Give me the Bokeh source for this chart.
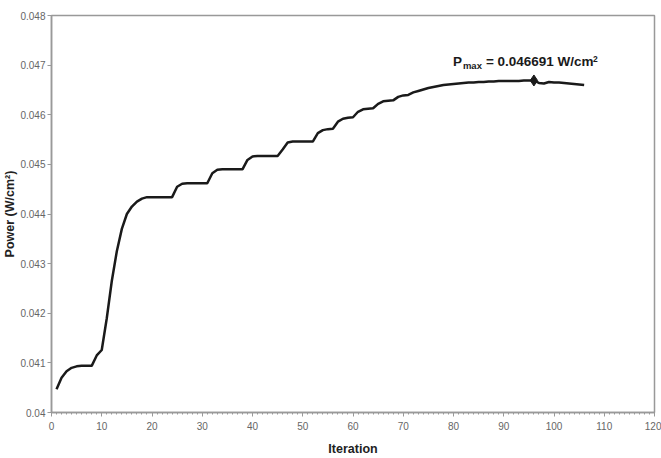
from bokeh.plotting import figure
from bokeh.models import FixedTicker, Label, Range1d
from bokeh.embed import file_html
from bokeh.resources import INLINE

iterations = list(range(1, 107))
power = [
    0.04047, 0.04070, 0.04083, 0.04090, 0.04093, 0.04094, 0.04094, 0.04094, 0.04115, 0.04126,
    0.04190, 0.04265, 0.04325, 0.04370, 0.04400, 0.04415, 0.04425, 0.04431, 0.04434, 0.04434,
    0.04434, 0.04434, 0.04434, 0.04434, 0.04455, 0.04461, 0.04462, 0.04462, 0.04462, 0.04462,
    0.04462, 0.04482, 0.04489, 0.04490, 0.04490, 0.04490, 0.04490, 0.04490, 0.04509, 0.04516,
    0.04517, 0.04517, 0.04517, 0.04517, 0.04517, 0.04530, 0.04544, 0.04546, 0.04546, 0.04546,
    0.04546, 0.04546, 0.04563, 0.04569, 0.04571, 0.04572, 0.04586, 0.04592, 0.04594, 0.04595,
    0.04606, 0.04611, 0.04612, 0.04613, 0.04622, 0.04627, 0.04628, 0.04629, 0.04636, 0.04639,
    0.04640, 0.04645, 0.04648, 0.04651, 0.04654, 0.04656, 0.04658, 0.04660, 0.04661, 0.04662,
    0.04663, 0.04664, 0.04665, 0.04665, 0.04666, 0.04666, 0.04667, 0.04667, 0.04668, 0.04668,
    0.04668, 0.04668, 0.04668, 0.04669, 0.04669, 0.04669, 0.04664, 0.04663, 0.04666, 0.04665,
    0.04665, 0.04664, 0.04663, 0.04662, 0.04661, 0.04660,
]
pmax_iter = [96]
pmax_value = [0.046691]

x_ticks = list(range(0, 121, 10))
x_minor = list(range(0, 121, 1))
y_ticks = [0.040, 0.041, 0.042, 0.043, 0.044, 0.045, 0.046, 0.047, 0.048]
y_tick_labels = ["0.04", "0.041", "0.042", "0.043", "0.044", "0.045", "0.046", "0.047", "0.048"]

FONT = "Liberation Sans"
GRAY = "#999999"
LABEL_GRAY = "#666666"

p = figure(width=661, height=458, output_backend="svg", toolbar_location=None,
           x_range=Range1d(0, 120), y_range=Range1d(0.040, 0.048),
           min_border_left=50, min_border_right=7, min_border_top=15, min_border_bottom=46)

p.background_fill_color = "white"
p.border_fill_color = "white"
p.outline_line_color = GRAY
p.outline_line_width = 1.5
p.xgrid.visible = False
p.ygrid.visible = False

p.xaxis.ticker = FixedTicker(ticks=x_ticks, minor_ticks=x_minor)
p.yaxis.ticker = FixedTicker(ticks=y_ticks)
p.yaxis.major_label_overrides = {t: s for t, s in zip(y_ticks, y_tick_labels)}

for ax in (p.xaxis[0], p.yaxis[0]):
    ax.axis_line_color = GRAY
    ax.axis_line_width = 1.5
    ax.major_tick_line_color = GRAY
    ax.minor_tick_line_color = GRAY
    ax.major_tick_out = 4
    ax.major_tick_in = 0
    ax.minor_tick_out = 2
    ax.minor_tick_in = 0
    ax.major_label_text_font = FONT
    ax.major_label_text_font_size = "10px"
    ax.major_label_text_color = LABEL_GRAY
    ax.axis_label_text_font = FONT
    ax.axis_label_text_font_size = "12.5px"
    ax.axis_label_text_font_style = "bold"
    ax.axis_label_text_color = "#222222"

p.yaxis.minor_tick_line_color = None
p.xaxis.axis_label = "Iteration"
p.yaxis.axis_label = "Power (W/cm²)"
p.xaxis.major_label_standoff = 5
p.xaxis.axis_label_standoff = 9
p.yaxis.major_label_standoff = 2
p.yaxis.axis_label_standoff = 0

p.line(iterations, power, line_color="#1a1a1a", line_width=2.5)
p.scatter(pmax_iter, pmax_value, marker="diamond", size=11, color="#1a1a1a")

# annotation "P_max = 0.046691 W/cm^2"
ann_x = pmax_iter[0]
ann_y = pmax_value[0]
common = dict(text_font=FONT, text_font_style="bold", text_color="#1a1a1a")
p.add_layout(Label(x=ann_x, y=ann_y, x_offset=-81, y_offset=11, text="P",
                   text_font_size="13.5px", **common))
p.add_layout(Label(x=ann_x, y=ann_y, x_offset=-71, y_offset=9, text="max",
                   text_font_size="9.5px", **common))
p.add_layout(Label(x=ann_x, y=ann_y, x_offset=-48, y_offset=11, text="= 0.046691 W/cm",
                   text_font_size="13.5px", **common))
p.add_layout(Label(x=ann_x, y=ann_y, x_offset=59, y_offset=18, text="2",
                   text_font_size="8.5px", **common))

open("out.html", "w").write(file_html(p, INLINE))
